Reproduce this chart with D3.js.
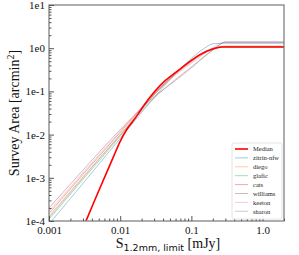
<!DOCTYPE html>
<html>
<head>
<meta charset="utf-8">
<title>survey area</title>
<style>
  body { margin: 0; background: #fff; }
  text { font-family: "Liberation Serif", "DejaVu Serif", serif; }
</style>
</head>
<body>
<svg width="299" height="255"></svg>
<script src="https://d3js.org/d3.v7.min.js"></script>
<script>

// flux limit grid (mJy) shared by the model curves
var fluxGrid = [0.001, 0.003, 0.01, 0.03, 0.06, 0.1, 0.15, 0.2, 0.3, 0.5, 1.0, 2.0];

// median curve has its own grid
var medianFlux = [0.0030, 0.0035, 0.005, 0.008, 0.010, 0.0125, 0.015, 0.026, 0.04, 0.063, 0.1, 0.13, 0.2, 0.27, 0.5, 1.0, 2.0];
var medianArea = [6.9e-5, 1.25e-4, 5.0e-4, 3.0e-3, 7.0e-3, 0.0135, 0.0200, 0.072, 0.16, 0.29, 0.52, 0.70, 0.96, 1.07, 1.07, 1.07, 1.07];

var models = ["zitrin-nfw", "diego", "glafic", "cats", "williams", "keeton", "sharon"];
var modelArea = {
    "zitrin-nfw": [0.85e-4, 7.4e-4, 0.0082, 0.072, 0.26, 0.58, 0.98, 1.26, 1.30, 1.30, 1.30, 1.30],
    "diego":      [1.3e-4, 1.05e-3, 0.0100, 0.084, 0.25, 0.48, 0.76, 0.96, 1.12, 1.12, 1.12, 1.12],
    "glafic":     [1.1e-4, 9.2e-4, 0.0092, 0.082, 0.27, 0.52, 0.80, 1.00, 1.07, 1.07, 1.07, 1.07],
    "cats":       [1.5e-4, 1.2e-3, 0.0112, 0.088, 0.26, 0.50, 0.78, 0.98, 1.10, 1.10, 1.10, 1.10],
    "williams":   [2.0e-4, 1.5e-3, 0.0130, 0.075, 0.18, 0.35, 0.62, 0.90, 1.38, 1.38, 1.38, 1.38],
    "keeton":     [1.7e-4, 1.3e-3, 0.0120, 0.085, 0.24, 0.45, 0.74, 1.02, 1.40, 1.40, 1.40, 1.40],
    "sharon":     [1.2e-4, 1.0e-3, 0.0098, 0.070, 0.19, 0.37, 0.64, 0.92, 1.37, 1.37, 1.37, 1.37]
};
var modelColors = ["#1f77b4", "#ff7f0e", "#2ca02c", "#d62728", "#8c564b", "#e377c2", "#7f7f7f"];

var xTicks = [0.001, 0.01, 0.1, 1.0];
var xTickLabels = ["0.001", "0.01", "0.1", "1.0"];
var yTicks = [1e-4, 1e-3, 1e-2, 1e-1, 1e0, 1e1];
var yTickLabels = ["1e-4", "1e-3", "1e-2", "1e-1", "1e0", "1e1"];

var margin = {left: 49, top: 5, right: 15, bottom: 34};
var W = 299, H = 255;
var iw = W - margin.left - margin.right, ih = H - margin.top - margin.bottom;

var svg = d3.select('svg');
var g = svg.append('g').attr('transform', 'translate(' + margin.left + ',' + margin.top + ')');

var x = d3.scaleLog().domain([0.001, 2.0]).range([0, iw]);
var y = d3.scaleLog().domain([1e-4, 1e1]).range([ih, 0]);

g.append('clipPath').attr('id', 'clip')
    .append('rect').attr('width', iw).attr('height', ih);

var line = d3.line()
    .x(function (d) { return x(d[0]); })
    .y(function (d) { return y(d[1]); })
    .curve(d3.curveMonotoneX);

var plot = g.append('g').attr('clip-path', 'url(#clip)');

models.forEach(function (m, i) {
    plot.append('path')
        .datum(fluxGrid.map(function (f, j) { return [f, modelArea[m][j]]; }))
        .attr('d', line)
        .attr('fill', 'none')
        .attr('stroke', modelColors[i])
        .attr('stroke-opacity', 0.4)
        .attr('stroke-width', 1);
});

plot.append('path')
    .datum(medianFlux.map(function (f, j) { return [f, medianArea[j]]; }))
    .attr('d', line)
    .attr('fill', 'none')
    .attr('stroke', '#ff0000')
    .attr('stroke-width', 1.6);

// frame
g.append('rect').attr('width', iw).attr('height', ih)
    .attr('fill', 'none').attr('stroke', '#777').attr('stroke-width', 1.2);

// minor ticks
var xMinor = [];
[0.001, 0.01, 0.1, 1].forEach(function (d) {
    for (var k = 2; k <= 9; k++) if (d * k <= 2.0) xMinor.push(d * k);
});
var yMinor = [];
[1e-4, 1e-3, 1e-2, 1e-1, 1e0].forEach(function (d) {
    for (var k = 2; k <= 9; k++) yMinor.push(d * k);
});

var xAxis = d3.axisBottom(x).tickValues(xTicks).tickSize(-5)
    .tickFormat(function (d, i) { return xTickLabels[i]; });
var gx = g.append('g').attr('transform', 'translate(0,' + ih + ')').call(xAxis);
g.append('g').attr('transform', 'translate(0,' + ih + ')')
    .call(d3.axisBottom(x).tickValues(xMinor).tickSize(-2.5).tickFormat(''));

var yAxis = d3.axisLeft(y).tickValues(yTicks).tickSize(-5)
    .tickFormat(function (d, i) { return yTickLabels[i]; });
var gy = g.append('g').call(yAxis);
g.append('g').call(d3.axisLeft(y).tickValues(yMinor).tickSize(-2.5).tickFormat(''));

g.selectAll('.domain').remove();
g.selectAll('.tick line').attr('stroke', '#555');
gx.selectAll('text').attr('font-size', 11).attr('fill', '#111')
    .attr('font-family', '"Liberation Serif", serif').attr('y', 5);
gy.selectAll('text').attr('font-size', 11).attr('fill', '#111')
    .attr('font-family', '"Liberation Serif", serif').attr('x', -4);

// axis labels
var xl = svg.append('text').attr('x', 168).attr('y', 248).attr('text-anchor', 'middle')
    .attr('font-size', 14).attr('fill', '#111');
xl.append('tspan').text('S');
xl.append('tspan').attr('dy', 3).attr('font-size', 9.5)
    .attr('font-family', '"DejaVu Sans", sans-serif').text('1.2mm, limit');
xl.append('tspan').attr('dy', -3).text(' [mJy]');

var yl = svg.append('text')
    .attr('transform', 'translate(19,' + (margin.top + ih / 2) + ') rotate(-90)')
    .attr('text-anchor', 'middle').attr('font-size', 14).attr('fill', '#111');
yl.append('tspan').text('Survey Area [arcmin');
yl.append('tspan').attr('dy', -5).attr('font-size', 10).text('2');
yl.append('tspan').attr('dy', 5).text(']');

// legend
var legendNames = ["Median"].concat(models);
var legendColors = ["#ff0000"].concat(modelColors);
var lg = svg.append('g').attr('transform', 'translate(232,143)');
lg.append('rect').attr('width', 50).attr('height', 76).attr('rx', 2)
    .attr('fill', '#fff').attr('fill-opacity', 0.9)
    .attr('stroke', '#ddd').attr('stroke-width', 0.8);
legendNames.forEach(function (n, i) {
    var yy = 6 + i * 8.9;
    lg.append('line').attr('x1', 3).attr('x2', 16).attr('y1', yy).attr('y2', yy)
        .attr('stroke', legendColors[i])
        .attr('stroke-opacity', i === 0 ? 1 : 0.4)
        .attr('stroke-width', i === 0 ? 1.6 : 1);
    lg.append('text').attr('x', 21).attr('y', yy + 2.3)
        .attr('font-size', 6.5).attr('fill', '#222').text(n);
});

</script>
</body>
</html>
